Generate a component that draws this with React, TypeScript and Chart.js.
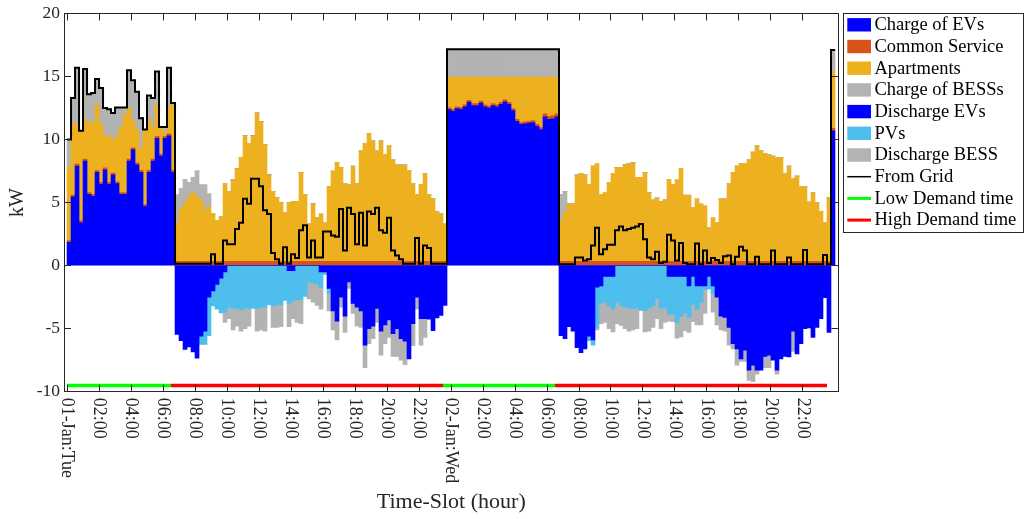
import React, { useEffect, useRef } from "react";
import { Chart, registerables } from "chart.js";

Chart.register(...registerables);

// ---------------- DATA (kW per 15-minute slot, 01-Jan 00:00 .. 02-Jan 23:45) ----------------
const SLOT_HOURS = 0.25;

const xTickHours = [0, 2, 4, 6, 8, 10, 12, 14, 16, 18, 20, 22, 24, 26, 28, 30, 32, 34, 36, 38, 40, 42, 44, 46];
const xTickLabels = [
  "01-Jan:Tue", "02:00", "04:00", "06:00", "08:00", "10:00", "12:00", "14:00", "16:00", "18:00", "20:00", "22:00",
  "02-Jan:Wed", "02:00", "04:00", "06:00", "08:00", "10:00", "12:00", "14:00", "16:00", "18:00", "20:00", "22:00",
];
const yTicksStep = 5;
const yMin = -10;
const yMax = 20;

const evCharge = [
  // 01-Jan 00:00-06:30
  1.84, 5.45, 7.9, 3.4, 8.3, 5.65, 5.5, 7.4, 6.45, 7.6, 6.45, 7.2, 6.5, 5.65,
  5.65, 8.3, 9.2, 8.0, 7.4, 4.7, 7.4, 8.3, 10.1, 8.7, 10.1, 10.3, 7.4,
  // 01-Jan 06:45-23:30
  0, 0, 0, 0, 0, 0, 0, 0, 0, 0, 0, 0, 0, 0, 0, 0, 0,
  0, 0, 0, 0, 0, 0, 0, 0, 0, 0, 0, 0, 0, 0, 0, 0, 0,
  0, 0, 0, 0, 0, 0, 0, 0, 0, 0, 0, 0, 0, 0, 0, 0, 0,
  0, 0, 0, 0, 0, 0, 0, 0, 0, 0, 0, 0, 0, 0, 0, 0, 0,
  // 01-Jan 23:45 - 02-Jan 06:30
  12.37, 12.24, 12.45, 12.4, 12.6, 12.97, 12.7, 12.7, 12.9, 12.6, 12.5, 12.7, 12.6, 12.8,
  13.0, 12.8, 12.3, 11.45, 11.2, 11.25, 11.3, 11.35, 11.05, 10.8, 11.8, 11.6, 11.65, 11.8,
  // 02-Jan 06:45-23:30
  0, 0, 0, 0, 0, 0, 0, 0, 0, 0, 0, 0, 0, 0, 0, 0, 0,
  0, 0, 0, 0, 0, 0, 0, 0, 0, 0, 0, 0, 0, 0, 0, 0, 0,
  0, 0, 0, 0, 0, 0, 0, 0, 0, 0, 0, 0, 0, 0, 0, 0, 0,
  0, 0, 0, 0, 0, 0, 0, 0, 0, 0, 0, 0, 0, 0, 0, 0, 0,
  // 02-Jan 23:45
  10.7,
];

const commonService = [
  0.15, 0.15, 0.15, 0.15, 0.15, 0.15, 0.15, 0.15, 0.15, 0.15, 0.15, 0.15, 0.15, 0.15,
  0.15, 0.15, 0.15, 0.15, 0.15, 0.15, 0.15, 0.15, 0.15, 0.15, 0.15, 0.15, 0.15,
  0.35, 0.35, 0.35, 0.35, 0.35, 0.35, 0.35, 0.35, 0.35, 0.35, 0.35, 0.35, 0.35, 0.35, 0.35, 0.35, 0.35,
  0.35, 0.35, 0.35, 0.35, 0.35, 0.35, 0.35, 0.35, 0.35, 0.35, 0.35, 0.35, 0.35, 0.35, 0.35, 0.35, 0.35,
  0.35, 0.35, 0.35, 0.35, 0.35, 0.35, 0.35, 0.35, 0.35, 0.35, 0.35, 0.35, 0.35, 0.35, 0.35, 0.35, 0.35,
  0.35, 0.35, 0.35, 0.35, 0.35, 0.35, 0.35, 0.35, 0.35, 0.35, 0.35, 0.35, 0.35, 0.35, 0.35, 0.35, 0.35,
  0.15, 0.15, 0.15, 0.15, 0.15, 0.15, 0.15, 0.15, 0.15, 0.15, 0.15, 0.15, 0.15, 0.15,
  0.15, 0.15, 0.15, 0.15, 0.15, 0.15, 0.15, 0.15, 0.15, 0.15, 0.25, 0.25, 0.25, 0.25,
  0.35, 0.35, 0.35, 0.35, 0.35, 0.35, 0.35, 0.35, 0.35, 0.35, 0.35, 0.35, 0.35, 0.35, 0.35, 0.35, 0.35,
  0.35, 0.35, 0.35, 0.35, 0.35, 0.35, 0.35, 0.35, 0.35, 0.35, 0.35, 0.35, 0.35, 0.35, 0.35, 0.35, 0.35,
  0.35, 0.35, 0.35, 0.35, 0.35, 0.35, 0.35, 0.35, 0.35, 0.35, 0.35, 0.35, 0.35, 0.35, 0.35, 0.35, 0.35,
  0.35, 0.35, 0.35, 0.35, 0.35, 0.35, 0.35, 0.35, 0.35, 0.35, 0.35, 0.35, 0.35, 0.35, 0.35, 0.35, 0.35,
  0.2,
];

const apartments = [
  5.81, 5.6, 3.25, 7.15, 3.15, 5.5, 5.75, 5.25, 4.6, 2.55, 3.7, 2.65, 3.65, 5.2,
  6.2, 4.05, 2.15, 2.65, 1.75, 5.95, 4.05, 2.55, 2.55, 2.15, 0.25, 2.05, 5.35,
  3.05, 4.15, 4.65, 5.15, 5.45, 5.15, 4.85, 4.05, 4.35, 3.75,
  3.25, 3.55, 6.15, 5.55, 6.45, 7.35, 8.25, 9.95, 9.35, 9.95,
  11.75, 11.05, 9.25, 6.85, 5.55, 5.05, 4.65, 3.85, 4.65, 4.75,
  4.75, 7.05, 5.3, 2.95, 4.55, 3.45, 3.75, 3.05, 5.95, 7.15,
  7.85, 7.45, 6.15, 6.05, 7.55, 6.15, 8.75, 9.35, 10.15, 9.55,
  8.75, 9.55, 8.45, 9.15, 8.05, 7.65, 7.65, 7.65, 7.2, 6.15,
  5.3, 6.1, 6.95, 5.3, 4.95, 3.95, 3.75, 2.95,
  2.43, 2.56, 2.35, 2.4, 2.2, 1.83, 2.1, 2.1, 1.9, 2.2, 2.3, 2.1, 2.2, 2.0,
  1.8, 2.0, 2.5, 3.35, 3.6, 3.55, 3.5, 3.45, 3.75, 4.0, 2.9, 3.1, 3.05, 2.9,
  3.2, 3.85, 4.55, 4.55, 6.85, 6.95, 6.85, 6.1, 7.55, 7.75,
  5.3, 5.45, 6.25, 6.95, 7.45, 7.45, 7.65, 7.75, 7.8, 6.65,
  6.65, 7.05, 5.45, 4.85, 5.0, 4.75, 4.85, 6.5, 6.1, 6.45,
  7.35, 5.25, 5.25, 4.25, 4.95, 4.55, 4.4, 2.65, 3.45, 3.05,
  4.95, 4.95, 6.15, 7.05, 7.55, 7.75, 7.75, 8.05, 8.65, 9.15,
  8.75, 8.55, 8.45, 8.35, 8.2, 8.25, 6.95, 7.55, 6.55, 6.75,
  5.95, 5.9, 4.7, 5.45, 4.65, 3.95, 3.05, 5.05,
  4.5,
];

const bessCharge = [
  2.2, 2.1, 4.4, 0, 4.0, 2.3, 2.3, 2.0, 2.9, 2.2, 2.1, 2.1, 2.25, 1.55,
  0.55, 3.0, 3.2, 3.0, 2.4, 0, 1.9, 2.3, 2.6, 0, 0.5, 3.2, 0,
  2.2, 1.6, 1.8, 1.1, 1.2, 2.0, 1.2, 2.0, 1.0, 0,
  0, 0, 0, 0, 0, 0, 0, 0, 0, 0,
  0, 0, 0, 0, 0, 0, 0, 0, 0, 0,
  0, 0, 0, 0, 0, 0, 0, 0, 0, 0,
  0, 0, 0, 0, 0, 0, 0, 0, 0, 0,
  0, 0, 0, 0, 0, 0, 0, 0, 0, 0,
  0, 0, 0, 0, 0, 0, 0, 0,
  2.21, 2.21, 2.21, 2.21, 2.21, 2.21, 2.21, 2.21, 2.21, 2.21, 2.21, 2.21, 2.21, 2.21,
  2.21, 2.21, 2.21, 2.21, 2.21, 2.21, 2.21, 2.21, 2.21, 2.21, 2.21, 2.21, 2.21, 2.21,
  2.1, 1.7, 0, 0, 0, 0, 0, 0, 0, 0,
  0, 0, 0, 0, 0, 0, 0, 0, 0, 0,
  0, 0, 0, 0, 0, 0, 0, 0, 0, 0,
  0, 0, 0, 0, 0, 0, 0, 0, 0, 0,
  0, 0, 0, 0, 0, 0, 0, 0, 0, 0,
  0, 0, 0, 0, 0, 0, 0, 0, 0, 0,
  0, 0, 0, 0, 0, 0, 0, 0,
  1.7,
];

const evDischarge = [
  0, 0, 0, 0, 0, 0, 0, 0, 0, 0, 0, 0, 0, 0,
  0, 0, 0, 0, 0, 0, 0, 0, 0, 0, 0, 0, 0,
  -5.45, -5.95, -6.65, -6.45, -6.85, -7.35, -5.6, -5.2, -2.5, -2.0,
  -1.5, -1.0, -0.5, 0, 0, 0, 0, 0, 0, 0,
  0, 0, 0, 0, 0, 0, 0, 0, -0.4, -0.4,
  0, 0, 0, 0, 0, 0, -0.5, -0.5, -1.8, -3.6,
  -4.4, -2.5, -4.0, -1.3, -3.0, -3.3, -3.6, -6.3, -5.0, -4.8,
  -3.4, -5.2, -4.7, -4.3, -5.4, -5.0, -5.8, -6.0, -7.4, -4.6,
  -2.5, -4.2, -4.2, -4.25, -5.15, -4.15, -3.95, -3.15,
  0, 0, 0, 0, 0, 0, 0, 0, 0, 0, 0, 0, 0, 0,
  0, 0, 0, 0, 0, 0, 0, 0, 0, 0, 0, 0, 0, 0,
  -5.55, -5.8, -4.85, -5.2, -6.5, -6.9, -6.6, -5.6, -5.9, -1.7,
  -1.6, -0.85, -0.85, -0.85, 0, 0, 0, 0, 0, 0,
  0, 0, 0, 0, 0, 0, 0, -0.85, -0.85, -0.85,
  -0.85, -0.85, -1.6, -0.85, -1.6, -1.6, -1.6, -0.85, -1.6, -2.5,
  -4.0, -4.1, -4.9, -6.2, -6.6, -7.4, -6.7, -8.3, -7.9, -8.3,
  -8.3, -7.2, -7.1, -7.5, -8.3, -7.4, -7.2, -7.25, -5.2, -7.0,
  -6.2, -5.0, -4.95, -5.7, -4.9, -4.2, -2.55, -5.3,
  0,
];

const pvGeneration = [
  0, 0, 0, 0, 0, 0, 0, 0, 0, 0, 0, 0, 0, 0,
  0, 0, 0, 0, 0, 0, 0, 0, 0, 0, 0, 0, 0,
  0, 0, 0, 0, 0, 0, -0.65, -1.05, -3.05, -1.2,
  -1.95, -2.75, -3.2, -3.3, -3.4, -3.4, -3.5, -3.4, -3.4, -3.4,
  -3.4, -3.3, -3.3, -3.1, -3.2, -3.1, -3.1, -2.75, -2.6, -2.4,
  -2.7, -2.7, -2.45, -1.3, -1.4, -1.5, -1.2, -0.2, -0.4, 0,
  0, 0, 0, 0, 0, 0, 0, 0, 0, 0,
  0, 0, 0, 0, 0, 0, 0, 0, 0, 0,
  0, 0, 0, 0, 0, 0, 0, 0,
  0, 0, 0, 0, 0, 0, 0, 0, 0, 0, 0, 0, 0, 0,
  0, 0, 0, 0, 0, 0, 0, 0, 0, 0, 0, 0, 0, 0,
  0, 0, 0, 0, 0, 0, 0, -0.35, -0.4, -3.2,
  -1.4, -2.05, -2.35, -2.6, -2.9, -3.15, -3.3, -3.4, -3.4, -3.4,
  -3.55, -3.55, -3.4, -3.2, -2.6, -3.4, -3.3, -3.0, -3.0, -3.7,
  -3.2, -2.9, -2.5, -2.2, -1.9, -1.3, -0.3, -1.0, -0.6, 0,
  0, 0, 0, 0, 0, 0, 0, 0, 0, 0,
  0, 0, 0, 0, 0, 0, 0, 0, 0, 0,
  0, 0, 0, 0, 0, 0, 0, 0,
  0,
];

const bessDischarge = [
  0, 0, 0, 0, 0, 0, 0, 0, 0, 0, 0, 0, 0, 0,
  0, 0, 0, 0, 0, 0, 0, 0, 0, 0, 0, 0, 0,
  0, 0, 0, 0, 0, 0, 0, 0, 0, 0,
  0, 0, -0.8, -0.9, -1.7, -1.4, -1.7, -1.6, -1.4, 0,
  -1.8, -1.8, -1.9, 0, -1.7, -1.8, -1.75, 0, -1.85, -1.4,
  -1.8, -1.9, 0, -1.35, -1.5, -1.65, -1.75, 0, -1.4, -1.5,
  -1.5, -0.8, -1.3, -0.5, -0.8, -1.5, -1.3, -1.8, -1.2, -1.0,
  -1.1, -1.9, -1.5, -1.4, -1.8, -2.2, -1.7, -1.85, 0, -1.75,
  -0.95, -2.1, -1.5, 0, 0, 0, 0, 0,
  0, 0, 0, 0, 0, 0, 0, 0, 0, 0, 0, 0, 0, 0,
  0, 0, 0, 0, 0, 0, 0, 0, 0, 0, 0, 0, 0, 0,
  0, 0, 0, 0, 0, 0, 0, 0, 0, -0.2,
  -1.6, -1.6, -1.8, -1.8, -1.7, -1.6, -1.7, -1.8, -1.7, -1.6,
  0, -1.7, -1.8, -1.7, -1.6, -1.6, -1.2, -0.55, -0.6, -1.2,
  -1.6, -1.4, -1.2, -1.4, -1.2, -1.8, -1.9, 0, -1.5, -2.2,
  -1.1, -1.1, -1.4, -0.4, -1.3, -0.2, -0.9, -0.8, -1.3, -0.3,
  0, -0.9, -1.0, 0, -0.3, 0, 0, 0, -1.6, 0,
  0, 0, 0, 0, 0, 0, 0, 0,
  0,
];

const fromGrid = [
  10.0, 13.3, 15.7, 10.7, 15.6, 13.6, 13.7, 14.8, 14.1, 12.5, 12.4, 12.1, 12.55, 12.55,
  12.55, 15.5, 14.7, 13.8, 11.7, 10.8, 13.5, 13.3, 15.4, 11.0, 11.0, 15.7, 12.9,
  0.15, 0.15, 0.15, 0.15, 0.15, 0.15, 0.15, 0.15, 0.15, 0.9,
  0.15, 0.15, 2.0, 1.7, 1.7, 2.9, 3.4, 5.3, 4.9, 6.9,
  6.9, 6.3, 4.4, 4.1, 1.0, 0.5, 0.15, 1.45, 0.15, 0.9,
  0.6, 2.8, 3.2, 0.65, 2.0, 0.65, 0.65, 2.7, 2.7, 2.4,
  2.3, 4.5, 1.2, 4.6, 4.1, 1.7, 4.2, 1.6, 4.3, 4.1,
  4.6, 2.8, 2.6, 3.8, 1.2, 0.8, 0.5, 0.15, 0.15, 0.15,
  2.2, 0.15, 1.6, 1.4, 0.15, 0.15, 0.15, 0.15,
  17.16, 17.16, 17.16, 17.16, 17.16, 17.16, 17.16, 17.16, 17.16, 17.16, 17.16, 17.16, 17.16, 17.16,
  17.16, 17.16, 17.16, 17.16, 17.16, 17.16, 17.16, 17.16, 17.16, 17.16, 17.16, 17.16, 17.16, 17.16,
  0.1, 0.1, 0.1, 0.1, 0.65, 0.65, 0.4, 0.5, 1.6, 3.0,
  0.9, 1.3, 1.65, 1.65, 2.8, 3.1, 2.8, 2.9, 3.0, 3.1,
  3.3, 2.1, 0.65, 0.5, 1.1, 0.2, 0.3, 2.45, 2.0, 0.4,
  1.8, 0.2, 0.1, 0.1, 1.75, 0.1, 1.2, 0.2, 0.6, 0.45,
  0.2, 0.75, 0.8, 0.1, 0.7, 1.5, 1.2, 0.1, 0.1, 0.7,
  0.1, 0.1, 0.1, 1.2, 0.1, 0.1, 0.1, 0.65, 0.1, 0.1,
  0.1, 1.25, 0.1, 0.1, 0.1, 0.1, 0.85, 0.1,
  17.1,
];

const demandLevel = -9.5;
const lowDemandPeriods = [[0, 6.5], [23.5, 30.5]];
const highDemandPeriods = [[6.5, 23.5], [30.5, 47.5]];

// ---------------- STYLE ----------------
const FONT = '"Liberation Serif", "Times New Roman", serif';
const AXIS_COLOR = "#262626";
const X_MIN = -0.19;
const X_MAX = 48.22;

const barSeries = [
  { label: "Charge of EVs", values: evCharge, color: "#0000FF" },
  { label: "Common Service", values: commonService, color: "#D95319" },
  { label: "Apartments", values: apartments, color: "#EDB120" },
  { label: "Charge of BESSs", values: bessCharge, color: "#B3B3B3" },
  { label: "Discharge EVs", values: evDischarge, color: "#0000FF" },
  { label: "PVs", values: pvGeneration, color: "#4DBEEE" },
  { label: "Discharge BESS", values: bessDischarge, color: "#B3B3B3" },
];

function slotStart(i: number) {
  return i * SLOT_HOURS;
}

function periodPoints(periods: number[][]) {
  const pts: { x: number; y: number | null }[] = [];
  periods.forEach(([a, b], i) => {
    if (i > 0) pts.push({ x: (periods[i - 1][1] + a) / 2, y: null });
    pts.push({ x: a, y: demandLevel }, { x: b, y: demandLevel });
  });
  return pts;
}

const legendPlugin = {
  id: "boxedLegend",
  afterDraw(chart: any) {
    const ctx = chart.ctx as CanvasRenderingContext2D;
    const left = 843.5, top = 13.5, right = 1023.5, bottom = 232.5;
    ctx.save();
    ctx.fillStyle = "#ffffff";
    ctx.fillRect(left, top, right - left, bottom - top);
    ctx.strokeStyle = AXIS_COLOR;
    ctx.lineWidth = 1;
    ctx.strokeRect(left, top, right - left, bottom - top);
    ctx.font = `18.5px ${FONT}`;
    ctx.textAlign = "left";
    ctx.textBaseline = "middle";
    chart.data.datasets.forEach((ds: any, i: number) => {
      const cy = 24.8 + i * 21.7;
      if (ds.type === "line") {
        ctx.strokeStyle = ds.borderColor;
        ctx.lineWidth = ds.legendLineWidth;
        ctx.beginPath();
        ctx.moveTo(847.3, cy);
        ctx.lineTo(871, cy);
        ctx.stroke();
      } else {
        ctx.fillStyle = ds.backgroundColor;
        ctx.fillRect(847.3, cy - 6.7, 23.7, 13.4);
      }
      ctx.fillStyle = "#000000";
      ctx.fillText(ds.label, 874.5, cy + 0.5);
    });
    ctx.restore();
  },
};

const xLabelPlugin = {
  id: "rotatedXLabels",
  afterDraw(chart: any) {
    const ctx = chart.ctx as CanvasRenderingContext2D;
    const scale = chart.scales.x;
    ctx.save();
    ctx.fillStyle = AXIS_COLOR;
    ctx.font = `18px ${FONT}`;
    ctx.textAlign = "left";
    ctx.textBaseline = "middle";
    xTickHours.forEach((h, i) => {
      const x = scale.getPixelForValue(h);
      ctx.save();
      ctx.translate(x, chart.chartArea.bottom + 6);
      ctx.rotate(Math.PI / 2);
      ctx.fillText(xTickLabels[i], 0, 0);
      ctx.restore();
    });
    ctx.restore();
  },
};

function setXTicks(scale: any) {
  scale.ticks = xTickHours.map((v) => ({ value: v }));
}

function noScalePadding(s: any) {
  s.paddingTop = 0;
  s.paddingBottom = 0;
  s.paddingLeft = 0;
  s.paddingRight = 0;
}

const tickGrid = {
  drawOnChartArea: false,
  tickLength: -7,
  tickColor: AXIS_COLOR,
  tickWidth: 1,
  z: 1,
};
const axisBorder = { display: true, color: AXIS_COLOR, width: 1, z: 1 };

export default function App() {
  const canvasRef = useRef<HTMLCanvasElement>(null);

  useEffect(() => {
    const barDatasets = barSeries.map((s) => ({
      type: "bar" as const,
      label: s.label,
      data: s.values.map((v, i) => ({ x: slotStart(i) + SLOT_HOURS / 2, y: v })),
      backgroundColor: s.color,
      borderWidth: 0,
      barPercentage: 1,
      categoryPercentage: 1,
      stack: "flows",
      order: 1,
    }));

    const gridPoints = fromGrid.map((v, i) => ({ x: slotStart(i), y: v }));
    gridPoints.push({ x: slotStart(fromGrid.length), y: fromGrid[fromGrid.length - 1] });

    const datasets: any[] = [
      ...barDatasets,
      {
        type: "line",
        label: "From Grid",
        data: gridPoints,
        borderColor: "#000000",
        backgroundColor: "#000000",
        borderWidth: 2,
        legendLineWidth: 1.5,
        pointRadius: 0,
        stepped: "before",
        fill: false,
        stack: "grid",
        order: 0,
      },
      {
        type: "line",
        label: "Low Demand time",
        data: periodPoints(lowDemandPeriods),
        borderColor: "#00FF00",
        backgroundColor: "#00FF00",
        borderWidth: 3.5,
        legendLineWidth: 3,
        borderCapStyle: "butt",
        pointRadius: 0,
        fill: false,
        spanGaps: false,
        stack: "low",
        order: 0,
      },
      {
        type: "line",
        label: "High Demand time",
        data: periodPoints(highDemandPeriods),
        borderColor: "#FF0000",
        backgroundColor: "#FF0000",
        borderWidth: 3.5,
        legendLineWidth: 3,
        borderCapStyle: "butt",
        pointRadius: 0,
        fill: false,
        spanGaps: false,
        stack: "high",
        order: 0,
      },
    ];

    const chart = new Chart(canvasRef.current as HTMLCanvasElement, {
      type: "bar",
      data: { datasets },
      options: {
        animation: false,
        responsive: false,
        devicePixelRatio: 1,
        events: [],
        layout: { padding: { left: 0, right: 186.5, top: 13.5, bottom: 0 } },
        plugins: { legend: { display: false }, tooltip: { enabled: false } },
        scales: {
          x: {
            type: "linear",
            position: "bottom",
            min: X_MIN,
            max: X_MAX,
            offset: false,
            afterBuildTicks: setXTicks,
            afterFit: (s: any) => {
              s.height = 127.3;
              noScalePadding(s);
            },
            ticks: { display: false },
            grid: { ...tickGrid, offset: false },
            border: axisBorder,
            title: {
              display: true,
              text: "Time-Slot (hour)",
              color: AXIS_COLOR,
              font: { family: FONT, size: 22 },
              padding: { top: 0, bottom: 3.5 },
            },
          },
          xTop: {
            type: "linear",
            position: "top",
            min: X_MIN,
            max: X_MAX,
            offset: false,
            afterBuildTicks: setXTicks,
            afterFit: (s: any) => {
              s.height = 0;
              noScalePadding(s);
            },
            ticks: { display: false },
            grid: { ...tickGrid, offset: false },
            border: axisBorder,
          },
          y: {
            type: "linear",
            position: "left",
            stacked: true,
            min: yMin,
            max: yMax,
            afterFit: (s: any) => {
              s.width = 64;
              noScalePadding(s);
            },
            ticks: {
              stepSize: yTicksStep,
              padding: 11,
              color: AXIS_COLOR,
              font: { family: FONT, size: 17.5 },
            },
            grid: tickGrid,
            border: axisBorder,
            title: {
              display: true,
              text: "kW",
              color: AXIS_COLOR,
              font: { family: FONT, size: 20 },
              padding: { top: 5.5, bottom: 0 },
            },
          },
          yRight: {
            type: "linear",
            position: "right",
            min: yMin,
            max: yMax,
            afterFit: (s: any) => {
              s.width = 0;
              noScalePadding(s);
            },
            ticks: { display: false, stepSize: yTicksStep },
            grid: tickGrid,
            border: axisBorder,
          },
        },
      } as any,
      plugins: [xLabelPlugin, legendPlugin],
    });

    return () => chart.destroy();
  }, []);

  return (
    <div style={{ position: "absolute", left: 0, top: 0, width: 1025, height: 519, background: "#ffffff" }}>
      <canvas ref={canvasRef} width={1025} height={519} style={{ display: "block", width: 1025, height: 519 }} />
    </div>
  );
}
